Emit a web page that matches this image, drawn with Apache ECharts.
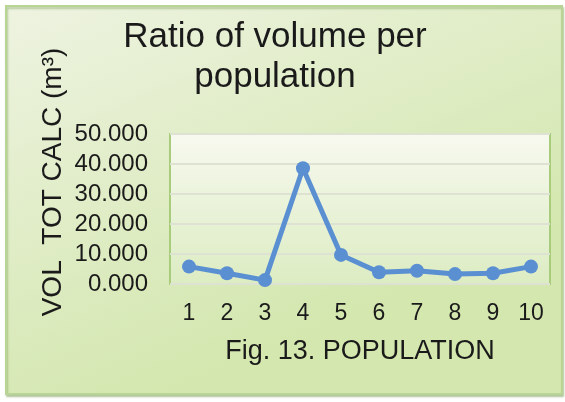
<!DOCTYPE html>
<html>
<head>
<meta charset="utf-8">
<style>
  html, body { margin: 0; padding: 0; background: #ffffff; }
  #chart { width: 565px; height: 402px; }
</style>
<script src="https://cdn.jsdelivr.net/npm/echarts@6/dist/echarts.min.js"></script>
</head>
<body>
<div id="chart"></div>
<script>
// Population index on the x axis, volume ratio on the y axis
const populations = ['1', '2', '3', '4', '5', '6', '7', '8', '9', '10'];
const volumeRatio = [5.8, 3.6, 1.3, 38.6, 9.7, 3.9, 4.4, 3.3, 3.6, 5.8];
const yTicks = { min: 0, max: 50, interval: 10 };

const titleText = 'Ratio of volume per\npopulation';
const xAxisName = 'Fig. 13. POPULATION';
const yAxisName = 'VOL  TOT CALC (m\u00B3)';

const FONT = '"Liberation Sans", Arial, sans-serif';
const chart = echarts.init(document.getElementById('chart'), null, { renderer: 'canvas' });

const grid = { left: 170, right: 15, top: 134, bottom: 118 };

chart.setOption({
  animation: false,
  backgroundColor: '#ffffff',
  graphic: [
    {
      // chart area frame with its soft green gradient
      type: 'rect', z: -10, silent: true,
      shape: { x: 6, y: 6, width: 556, height: 388 },
      style: {
        fill: new echarts.graphic.LinearGradient(0, 0, 0.3, 1, [
          { offset: 0, color: '#eef3e1' },
          { offset: 1, color: '#d3e7ae' }
        ]),
        stroke: '#b9d596', lineWidth: 2,
        shadowColor: 'rgba(110,150,70,0.45)', shadowBlur: 2, shadowOffsetY: 2, shadowOffsetX: 1
      }
    },
    {
      // plot area fill
      type: 'rect', z: -5, silent: true,
      shape: { x: grid.left, y: grid.top, width: 565 - grid.left - grid.right, height: 402 - grid.top - grid.bottom },
      style: {
        fill: new echarts.graphic.LinearGradient(0, 0, 0, 1, [
          { offset: 0, color: '#f7f9ef' },
          { offset: 1, color: '#dcecc2' }
        ]),
        stroke: '#a9cc7c', lineWidth: 2
      }
    },
    {
      type: 'text', silent: true,
      x: 53, y: 182, rotation: Math.PI / 2,
      style: {
        text: yAxisName,
        font: '28px ' + FONT,
        fill: '#1a1a1a',
        align: 'center', verticalAlign: 'middle'
      }
    }
  ],
  title: {
    text: titleText,
    left: 270, top: 12,
    textAlign: 'center',
    textStyle: {
      fontFamily: FONT, fontSize: 35, fontWeight: 'normal',
      color: '#1a1a1a', lineHeight: 40
    }
  },
  grid: grid,
  xAxis: {
    type: 'category',
    data: populations,
    boundaryGap: true,
    name: xAxisName,
    nameLocation: 'middle',
    nameGap: 54,
    nameTextStyle: { fontFamily: FONT, fontSize: 27, color: '#1a1a1a' },
    axisLine: { show: false },
    axisTick: { show: false },
    axisLabel: { fontFamily: FONT, fontSize: 23, color: '#1a1a1a', margin: 18 }
  },
  yAxis: {
    type: 'value',
    min: yTicks.min, max: yTicks.max, interval: yTicks.interval,
    axisLine: { show: false },
    axisTick: { show: false },
    axisLabel: {
      fontFamily: FONT, fontSize: 24, color: '#1a1a1a', margin: 22,
      formatter: v => v.toFixed(3)
    },
    splitLine: { lineStyle: { color: '#dde2d3', width: 2 } }
  },
  series: [{
    type: 'line',
    data: volumeRatio,
    symbol: 'circle',
    symbolSize: 14,
    lineStyle: { color: '#5a8fd2', width: 5 },
    itemStyle: { color: '#5a8fd2' },
    z: 5
  }]
});
</script>
</body>
</html>
